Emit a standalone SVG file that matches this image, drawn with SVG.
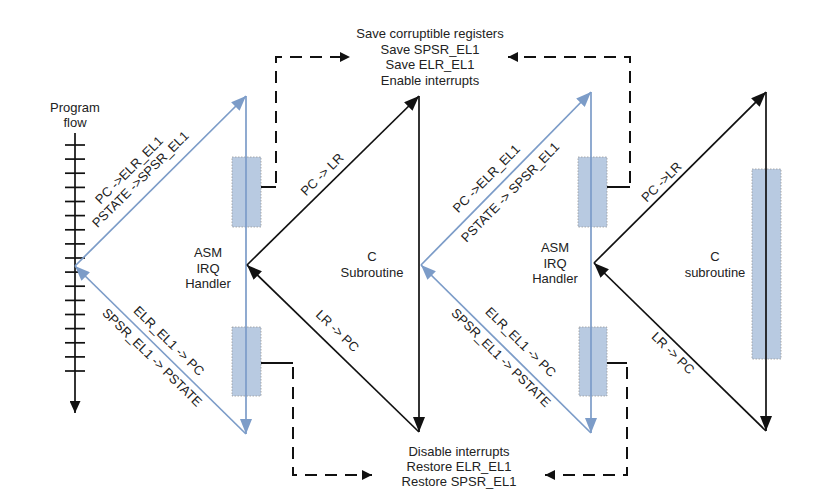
<svg xmlns="http://www.w3.org/2000/svg" width="826" height="491" viewBox="0 0 826 491">
<style>
text{font-family:"Liberation Sans",Arial,sans-serif;font-size:13px;fill:#222;}
.c{text-anchor:middle;}
.blk{stroke:#111;stroke-width:1.7;fill:none;}
.blu{stroke:#7c9cc8;stroke-width:1.7;fill:none;}
.dash{stroke:#111;stroke-width:2;fill:none;stroke-dasharray:12 8;}
.stub{stroke:#111;stroke-width:2;fill:none;}
.box{fill:#b8cae1;stroke:#9a9a9a;stroke-width:0.8;stroke-dasharray:1.5 1.5;}
.tick{stroke:#111;stroke-width:1.7;}
</style>
<defs>
<marker id="ab" markerUnits="userSpaceOnUse" markerWidth="15" markerHeight="12" refX="15" refY="6" orient="auto"><path d="M0,0 L15,6 L0,12 z" fill="#111"/></marker>
<marker id="au" markerUnits="userSpaceOnUse" markerWidth="15" markerHeight="12" refX="15" refY="6" orient="auto"><path d="M0,0 L15,6 L0,12 z" fill="#7c9cc8"/></marker>
<marker id="ap" markerUnits="userSpaceOnUse" markerWidth="12" markerHeight="11" refX="12" refY="5.5" orient="auto"><path d="M0,0 L12,5.5 L0,11 z" fill="#111"/></marker>
<marker id="ad" markerUnits="userSpaceOnUse" markerWidth="10" markerHeight="10" refX="10" refY="5" orient="auto"><path d="M0,0 L10,5 L0,10 z" fill="#111"/></marker>
</defs>
<rect width="826" height="491" fill="#fff"/>

<g id="program-flow">
<line class="blk" x1="75" y1="133" x2="75" y2="413" marker-end="url(#ap)"/>
<g class="tick">
<line x1="65" y1="145" x2="85" y2="145"/><line x1="65" y1="159.1" x2="85" y2="159.1"/><line x1="65" y1="173.2" x2="85" y2="173.2"/><line x1="65" y1="187.4" x2="85" y2="187.4"/><line x1="65" y1="201.5" x2="85" y2="201.5"/><line x1="65" y1="215.6" x2="85" y2="215.6"/><line x1="65" y1="229.8" x2="85" y2="229.8"/><line x1="65" y1="243.9" x2="85" y2="243.9"/><line x1="65" y1="258" x2="85" y2="258"/><line x1="65" y1="272.1" x2="85" y2="272.1"/><line x1="65" y1="286.2" x2="85" y2="286.2"/><line x1="65" y1="300.4" x2="85" y2="300.4"/><line x1="65" y1="314.5" x2="85" y2="314.5"/><line x1="65" y1="328.6" x2="85" y2="328.6"/><line x1="65" y1="342.8" x2="85" y2="342.8"/><line x1="65" y1="356.9" x2="85" y2="356.9"/><line x1="65" y1="371" x2="85" y2="371"/>
</g>
<text class="c" x="75" y="112">Program</text>
<text class="c" x="75" y="127">flow</text>
</g>

<g id="asm-handler-1">
<rect class="box" x="232" y="157" width="29" height="70"/>
<rect class="box" x="232" y="327" width="29" height="69"/>
<text class="c" x="208" y="257">ASM</text>
<text class="c" x="208" y="272.5">IRQ</text>
<text class="c" x="208" y="288">Handler</text>
</g>

<g id="c-subroutine-1">
<text class="c" x="372" y="261">C</text>
<text class="c" x="372" y="276.5">Subroutine</text>
</g>

<g id="asm-handler-2">
<rect class="box" x="578" y="157" width="29" height="70"/>
<rect class="box" x="579" y="327" width="28" height="69"/>
<text class="c" x="555" y="252">ASM</text>
<text class="c" x="555" y="267.5">IRQ</text>
<text class="c" x="555" y="283">Handler</text>
</g>

<g id="c-subroutine-2">
<rect class="box" x="752" y="169" width="29" height="190"/>
<text class="c" x="715" y="261">C</text>
<text class="c" x="715" y="276.5">subroutine</text>
</g>

<g id="save-block">
<text class="c" x="430" y="38">Save corruptible registers</text>
<text class="c" x="430" y="53.5">Save SPSR_EL1</text>
<text class="c" x="430" y="69">Save ELR_EL1</text>
<text class="c" x="430" y="84.5">Enable interrupts</text>
</g>

<g id="restore-block">
<text class="c" x="459" y="456">Disable interrupts</text>
<text class="c" x="459" y="471">Restore ELR_EL1</text>
<text class="c" x="459" y="486">Restore SPSR_EL1</text>
</g>

<g id="connectors">
<!-- blue triangle 1 -->
<line class="blu" x1="75" y1="266" x2="246" y2="96" marker-end="url(#au)"/>
<line class="blu" x1="246" y1="96" x2="246" y2="434" marker-end="url(#au)"/>
<line class="blu" x1="246" y1="434" x2="75" y2="266" marker-end="url(#au)"/>
<!-- black triangle 1 -->
<line class="blk" x1="247" y1="265" x2="419" y2="96" marker-end="url(#ab)"/>
<line class="blk" x1="419" y1="96" x2="419" y2="432" marker-end="url(#ab)"/>
<line class="blk" x1="419" y1="432" x2="247" y2="265" marker-end="url(#ab)"/>
<!-- blue triangle 2 -->
<line class="blu" x1="421" y1="265" x2="591" y2="92" marker-end="url(#au)"/>
<line class="blu" x1="591" y1="92" x2="591" y2="433" marker-end="url(#au)"/>
<line class="blu" x1="591" y1="433" x2="421" y2="265" marker-end="url(#au)"/>
<!-- black triangle 2 -->
<line class="blk" x1="594" y1="263" x2="766" y2="92" marker-end="url(#ab)"/>
<line class="blk" x1="766" y1="92" x2="766" y2="431" marker-end="url(#ab)"/>
<line class="blk" x1="766" y1="431" x2="594" y2="263" marker-end="url(#ab)"/>
<!-- dashed -->
<line class="stub" x1="261" y1="187" x2="276" y2="187"/>
<path class="dash" d="M276,183 V57 H350" marker-end="url(#ad)"/>
<line class="stub" x1="607" y1="187" x2="630" y2="187"/>
<path class="dash" d="M630,183 V57 H508" marker-end="url(#ad)"/>
<line class="stub" x1="261" y1="363" x2="293" y2="363"/>
<path class="dash" d="M293,367 V475 H372" marker-end="url(#ad)"/>
<line class="stub" x1="607" y1="363" x2="627" y2="363"/>
<path class="dash" d="M627,367 V475 H545" marker-end="url(#ad)"/>
<!-- labels -->
<g transform="translate(75,266) rotate(-44.8)">
<text class="c" x="106" y="-25.5">PC -&gt;ELR_EL1</text>
<text class="c" x="107.5" y="-11">PSTATE -&gt;SPSR_EL1</text>
</g>
<g transform="translate(75,266) rotate(44.5)">
<text class="c" x="119.5" y="-8">ELR_EL1 -&gt; PC</text>
<text class="c" x="119" y="15.5">SPSR_EL1 -&gt; PSTATE</text>
</g>
<g transform="translate(247,265) rotate(-44.5)">
<text class="c" x="117" y="-7.5">PC -&gt; LR</text>
</g>
<g transform="translate(247,265) rotate(44)">
<text class="c" x="111" y="-11">LR -&gt; PC</text>
</g>
<g transform="translate(421,265) rotate(-45.5)">
<text class="c" x="107.5" y="-9.5">PC -&gt;ELR_EL1</text>
<text class="c" x="114.5" y="17">PSTATE -&gt; SPSR_EL1</text>
</g>
<g transform="translate(421,265) rotate(44.7)">
<text class="c" x="125" y="-11">ELR_EL1 -&gt; PC</text>
<text class="c" x="122" y="14">SPSR_EL1 -&gt; PSTATE</text>
</g>
<g transform="translate(594,263) rotate(-44.8)">
<text class="c" x="105" y="-5.5">PC -&gt;LR</text>
</g>
<g transform="translate(594,263) rotate(44.3)">
<text class="c" x="119.5" y="13.7">LR -&gt; PC</text>
</g>
</g>
</svg>
